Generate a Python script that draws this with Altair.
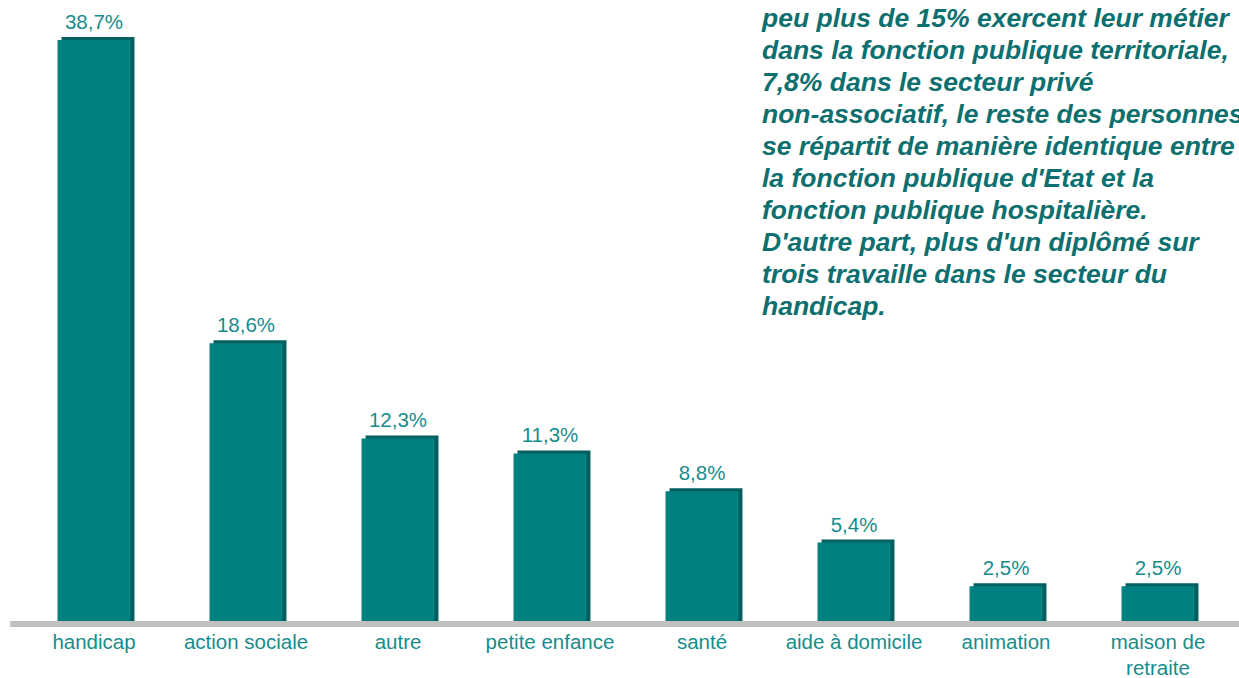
import altair as alt
import pandas as pd

categories = ["handicap", "action sociale", "autre", "petite enfance", "santé",
              "aide à domicile", "animation", "maison de retraite"]
values = [38.7, 18.6, 12.3, 11.3, 8.8, 5.4, 2.5, 2.5]
labels = ["38,7%", "18,6%", "12,3%", "11,3%", "8,8%", "5,4%", "2,5%", "2,5%"]

note_lines = [
    "peu plus de 15% exercent leur métier",
    "dans la fonction publique territoriale,",
    "7,8% dans le secteur privé",
    "non-associatif, le reste des personnes",
    "se répartit de manière identique entre",
    "la fonction publique d'Etat et la",
    "fonction publique hospitalière.",
    "D'autre part, plus d'un diplômé sur",
    "trois travaille dans le secteur du",
    "handicap.",
]

df = pd.DataFrame({"cat": categories, "val": values, "lab": labels})

FRONT = "#008080"
DARK = "#005f5f"
LABEL = "#178c8c"
NOTE = "#0e6f6f"
FONT = "Liberation Sans"
YMAX = 41.35

x = alt.X("cat:N", sort=categories,
          scale=alt.Scale(paddingInner=0.52, paddingOuter=0.26),
          axis=alt.Axis(title=None, domain=False, ticks=False, labelAngle=0,
                        labelPadding=8, labelFontSize=20.5, labelColor=LABEL,
                        labelFont=FONT, labelLimit=0, labelLineHeight=26,
                        labelBaseline="top",
                        labelExpr="datum.label == 'maison de retraite' ? ['maison de', 'retraite'] : datum.label"))
y = alt.Y("val:Q", scale=alt.Scale(domain=[0, YMAX], nice=False, zero=True), axis=None)

base = alt.Chart(df).encode(x=x, y=y)

back = base.mark_bar(color=DARK, xOffset=4, yOffset=-3, y2Offset=-3)
front = base.mark_bar(color=FRONT)
floor = alt.Chart(df).mark_rule(color="#c0c0c0", strokeWidth=5).encode(
    x=alt.value(-8), x2=alt.value(1230),
    y=alt.Y("z:Q", scale=alt.Scale(domain=[0, YMAX], nice=False), axis=None)
).transform_calculate(z="0")
text = base.mark_text(baseline="bottom", dy=-7, fontSize=20.5, color=LABEL, font=FONT).encode(text="lab:N")

note_df = pd.DataFrame({"t": ["\n".join(note_lines)]})
note = alt.Chart(note_df).mark_text(
    align="left", baseline="alphabetic", fontSize=26.5, fontStyle="italic", fontWeight="bold",
    color=NOTE, font=FONT, lineBreak="\n", lineHeight=32
).encode(x=alt.value(744), y=alt.value(27), text="t:N")

chart = alt.layer(back, front, floor, text, note).properties(
    width=1216, height=624,
    autosize=alt.AutoSizeParams(type="none"),
    padding={"left": 18, "top": 0, "right": 5, "bottom": 54},
).configure_view(stroke=None)

chart.save("out.html", embed_options={"renderer": "svg", "actions": False})
